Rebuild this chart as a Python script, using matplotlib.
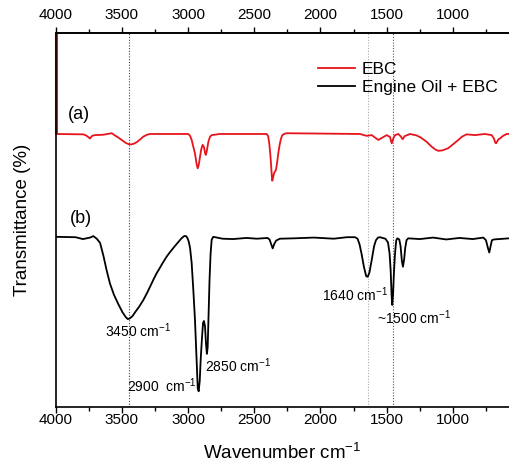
import matplotlib
matplotlib.use("Agg")
import matplotlib.pyplot as plt
from matplotlib.ticker import MultipleLocator

plt.rcParams["font.family"] = ["Liberation Sans", "DejaVu Sans"]
plt.rcParams["mathtext.fontset"] = "custom"
plt.rcParams["mathtext.rm"] = "Liberation Sans"
plt.rcParams["mathtext.it"] = "Liberation Sans:italic"
plt.rcParams["mathtext.bf"] = "Liberation Sans:bold"
plt.rcParams["mathtext.default"] = "regular"

# EBC spectrum (wavenumber, transmittance)
ebc_wn = [4000, 3792, 3770, 3755, 3741, 3725, 3703, 3640, 3577, 3552, 3525, 3502, 3470,
          3450, 3430, 3410, 3388, 3360, 3338, 3310, 3288,
          2998, 2985, 2973, 2960, 2948, 2935, 2927, 2918, 2910, 2900, 2890, 2880, 2872,
          2867, 2860, 2847, 2835, 2822, 2759,
          2406, 2395, 2387, 2380, 2374, 2368, 2364, 2358, 2351, 2343, 2336, 2327, 2319,
          2310, 2301, 2290, 2276, 2255,
          1702, 1651, 1613, 1563, 1500, 1475, 1462, 1450, 1437, 1412, 1395, 1379, 1365,
          1324, 1273, 1240, 1198, 1160, 1130, 1110, 1080, 1035, 1000, 959, 930, 896,
          833, 758, 707, 690, 680, 674, 665, 655, 644, 625, 594, 576]
ebc_t = [73.0, 72.9, 72.6, 72.2, 71.8, 72.5, 72.7, 72.8, 73.2, 72.6, 72.0, 71.4, 70.6,
         70.3, 70.2, 70.4, 70.8, 71.6, 72.3, 72.8, 73.0,
         73.0, 72.5, 71.4, 69.5, 67.8, 64.8, 63.8, 65.0, 66.9, 69.0, 70.1, 69.5, 68.0,
         67.4, 68.2, 70.9, 72.2, 72.7, 73.0,
         73.0, 72.4, 70.5, 68.0, 65.2, 62.0, 60.5, 61.3, 62.5, 63.0, 63.4, 65.5, 67.8,
         69.8, 71.4, 72.6, 73.0, 73.2,
         73.0, 72.5, 72.7, 71.4, 72.7, 72.2, 70.5, 71.8, 72.7, 73.0, 72.4, 71.6, 72.4,
         73.0, 72.6, 72.0, 70.9, 69.6, 68.8, 68.5, 68.6, 69.2, 70.2, 71.4, 72.3, 72.9,
         72.7, 73.0, 72.7, 71.8, 70.7, 70.5, 71.0, 71.6, 71.8, 72.4, 73.0, 73.0]

# Engine Oil + EBC spectrum
oil_wn = [4000, 3850, 3794, 3740, 3716, 3690, 3665, 3640, 3615, 3590, 3560, 3527, 3495,
          3470, 3455, 3440, 3420, 3401, 3370, 3338, 3310, 3288, 3260, 3237, 3210,
          3187, 3160, 3137, 3105, 3074, 3050, 3030, 3015, 3005, 2995, 2985, 2973,
          2960, 2948, 2935, 2927, 2920, 2912, 2905, 2895, 2887, 2880, 2872, 2865,
          2858, 2852, 2845, 2838, 2830, 2822, 2810, 2740, 2661, 2560, 2480,
          2400, 2385, 2370, 2361, 2350, 2335, 2306, 2200, 2050, 1900, 1800,
          1739, 1720, 1705, 1690, 1672, 1655, 1643, 1630, 1613, 1595, 1581, 1565,
          1551, 1510, 1490, 1478, 1470, 1463, 1458, 1452, 1445, 1437, 1428, 1420,
          1405, 1395, 1385, 1377, 1368, 1360, 1350, 1337, 1250, 1150, 1050, 950,
          850, 770, 750, 735, 725, 715, 705, 690, 650, 576]
oil_t = [45.5, 45.4, 44.9, 45.3, 45.7, 45.0, 43.9, 40.5, 36.5, 33.0, 30.0, 27.5, 25.3,
         24.0, 23.5, 23.7, 24.3, 25.3, 26.8, 28.6, 30.5, 32.1, 34.2, 35.8, 37.4,
         38.8, 40.3, 41.4, 42.8, 44.1, 45.1, 45.7, 45.7, 45.2, 44.2, 42.5, 38.5,
         31.0, 23.3, 12.0, 5.0, 4.2, 7.0, 12.6, 18.5, 22.5, 23.0, 21.5, 17.0,
         14.2, 16.0, 25.0, 34.0, 41.0, 44.7, 45.5, 45.0, 44.9, 45.2, 45.0,
         45.2, 44.8, 43.3, 42.4, 43.5, 44.5, 45.0, 45.1, 45.3, 45.0, 45.4,
         45.4, 45.0, 43.5, 41.0, 37.5, 35.0, 34.8, 36.0, 39.3, 43.0, 44.6, 45.3,
         45.4, 45.0, 44.0, 41.0, 36.6, 30.0, 27.3, 30.0, 36.0, 41.0, 44.5, 45.1,
         44.8, 43.0, 39.0, 37.5, 39.5, 42.5, 44.6, 45.1, 44.9, 45.3, 44.8, 45.2,
         44.9, 45.3, 44.6, 42.5, 41.3, 43.0, 44.6, 44.8, 44.9, 45.1]

ticks = [4000, 3500, 3000, 2500, 2000, 1500, 1000]

fig = plt.figure(figsize=(5.09, 4.68), dpi=100)
ax = fig.add_axes([55.7/509, 1-407/468, 1-55.7/509, 374/468])
ax.set_xlim(4000, 576)
ax.set_ylim(0, 100)

ax.axvline(3450, color="#444444", ls=(0, (1, 1.5)), lw=0.8)
ax.axvline(1640, color="#aaaaaa", ls=(0, (1, 1.5)), lw=0.8)
ax.axvline(1450, color="#555555", ls=(0, (1, 1.5)), lw=0.8)

ax.plot(ebc_wn, ebc_t, color="#e8141c", lw=1.3, label="EBC")
ax.plot(oil_wn, oil_t, color="black", lw=1.3, label="Engine Oil + EBC")

for s in ["left", "bottom", "top"]:
    ax.spines[s].set_linewidth(1.2)
ax.spines["right"].set_visible(False)
ax.plot([4000, 4000], [73, 100], color="#e8141c", lw=2.2, clip_on=False,
        solid_capstyle="butt")

ax.set_yticks([])
ax.set_xticks(ticks)
ax.xaxis.set_minor_locator(MultipleLocator(250))
ax.tick_params(axis="x", which="both", direction="out", labelsize=11, width=1.0, pad=0.5)
ax.tick_params(axis="x", which="major", length=4)
ax.tick_params(axis="x", which="minor", length=3)

sec = ax.secondary_xaxis("top")
sec.set_xticks(ticks)
sec.xaxis.set_minor_locator(MultipleLocator(250))
sec.tick_params(axis="x", which="both", direction="out", labelsize=11, width=1.0, pad=4)
sec.tick_params(axis="x", which="major", length=4)
sec.tick_params(axis="x", which="minor", length=3)
sec.spines["top"].set_linewidth(1.2)

ax.set_xlabel("Wavenumber cm$^{-1}$", fontsize=13.5, labelpad=11)
ax.set_ylabel("Transmittance (%)", fontsize=13.5, labelpad=18)

leg = ax.legend(loc="upper left", bbox_to_anchor=(0.579, 0.922), frameon=False,
                fontsize=12.5, handlelength=2.1, handletextpad=0.4, labelspacing=0.15,
                borderaxespad=0, borderpad=0)

ax.text(3907, 78.1, "(a)", fontsize=13, va="center", ha="left")
ax.text(3892, 50.5, "(b)", fontsize=13, va="center", ha="left")
fs = 10
ax.text(3628, 20.3, "3450 cm$^{-1}$", fontsize=fs, va="center", ha="left")
ax.text(3462, 5.6, "2900  cm$^{-1}$", fontsize=fs, va="center", ha="left")
ax.text(2873, 11.0, "2850 cm$^{-1}$", fontsize=fs, va="center", ha="left")
ax.text(1991, 29.9, "1640 cm$^{-1}$", fontsize=fs, va="center", ha="left")
ax.text(1576, 23.8, "~1500 cm$^{-1}$", fontsize=fs, va="center", ha="left")

fig.savefig("out.png", dpi=100)
